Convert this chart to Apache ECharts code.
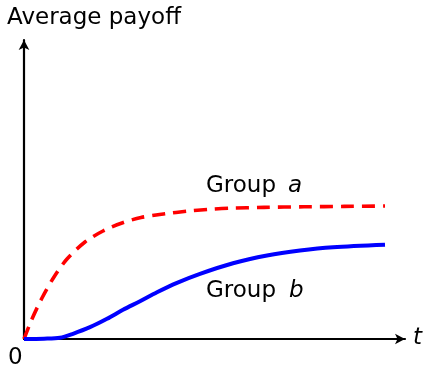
<!DOCTYPE html>
<html><head><meta charset="utf-8">
<script src="https://cdn.jsdelivr.net/npm/echarts@6/dist/echarts.min.js"></script>
<style>html,body{margin:0;padding:0;background:#fff}#c{width:425px;height:371px}</style>
</head><body><div id="c"></div>
<script>
const groupA_t = [0, 8, 18, 30, 43, 61, 79, 98, 117, 141, 163, 184, 206, 240, 280, 320, 361];
const groupA_v = [0, 20, 41, 62, 80, 97, 108, 116, 121.5, 125.2, 127.8, 129.6, 130.8, 131.6, 132.2, 132.6, 133];
const groupB_t = [0, 20, 36, 49, 66, 83, 99, 116, 133, 153, 176, 209, 243, 276, 309, 361];
const groupB_v = [0, 0.3, 1.2, 5.2, 11.8, 20.2, 29.2, 37.8, 46.8, 56.2, 65.2, 75.8, 83.5, 88.5, 91.8, 94.3];
const xMax = 381, yMax = 299;
const fam = '"DejaVu Sans", sans-serif';
const txt = (text, left, top, italic) => ({type: 'text', left, top,
  style: {text, fontSize: 23, fontFamily: fam, fontStyle: italic ? 'italic' : 'normal', fill: '#000'}});

const chart = echarts.init(document.getElementById('c'), null, {renderer: 'canvas'});
chart.setOption({
  animation: false,
  grid: {left: 24, right: 20, top: 40, bottom: 32},
  xAxis: {type: 'value', min: 0, max: xMax, splitLine: {show: false}, axisTick: {show: false}, axisLabel: {show: false},
    axisLine: {lineStyle: {color: '#000', width: 2.2}, symbol: ['none', 'arrow'], symbolSize: [8, 10]}},
  yAxis: {type: 'value', min: 0, max: yMax, splitLine: {show: false}, axisTick: {show: false}, axisLabel: {show: false},
    axisLine: {show: true, lineStyle: {color: '#000', width: 2.2}, symbol: ['none', 'arrow'], symbolSize: [8, 10]}},
  series: [
    {type: 'line', smooth: 0.3, showSymbol: false, data: groupA_t.map((t, i) => [t, groupA_v[i]]),
      lineStyle: {color: '#ff0000', width: 3.6, type: [13, 8]}},
    {type: 'line', smooth: 0.3, showSymbol: false, data: groupB_t.map((t, i) => [t, groupB_v[i]]),
      lineStyle: {color: '#0000ff', width: 4}}
  ],
  graphic: [
    txt('Average payoff', 7, 7, false),
    txt('Group', 206, 175, false),
    txt('a', 288, 175, true),
    txt('Group', 206, 280, false),
    txt('b', 289, 280, true),
    txt('t', 413, 327, true),
    txt('0', 8, 347, false)
  ]
});
</script></body></html>
